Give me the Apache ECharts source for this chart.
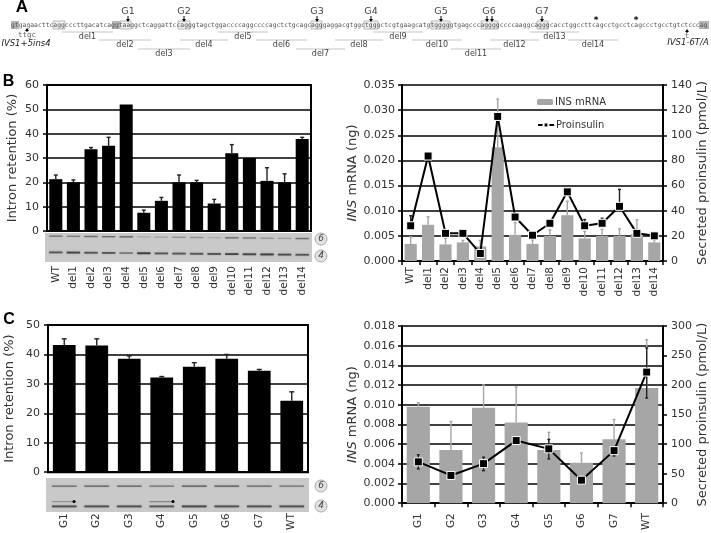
<!DOCTYPE html>
<html>
<head>
<meta charset="utf-8">
<style>
  html, body { margin: 0; padding: 0; background: #fff; }
  #chart { width: 711px; height: 533px; }
</style>
</head>
<body>
<div id="chart"></div>
<script src="https://cdn.jsdelivr.net/npm/echarts@6/dist/echarts.min.js"></script>
<script>
// panel B
const delNames = ['WT', 'del1', 'del2', 'del3', 'del4', 'del5', 'del6', 'del7', 'del8', 'del9', 'del10', 'del11', 'del12', 'del13', 'del14']
const delRetention = [21.3, 20, 33.6, 35, 52, 7.5, 12.4, 20, 20, 11.3, 32, 30, 20.6, 20, 37.8]
const delRetentionTop = [23, 21, 34.3, 38.5, 52, 8.6, 13.8, 23, 20.8, 13, 35.5, 30, 26, 23.5, 38.5]
const delMrna = [0.0034, 0.0072, 0.0033, 0.0037, 0.0029, 0.0226, 0.0052, 0.0034, 0.005, 0.0091, 0.0045, 0.005, 0.005, 0.0054, 0.0037]
const delMrnaTop = [0.0048, 0.0088, 0.0045, 0.0041, 0.0041, 0.0322, 0.0076, 0.0042, 0.0062, 0.0119, 0.0059, 0.0063, 0.0064, 0.0082, 0.0041]
const delProins = [28, 83.5, 22, 22, 6, 115, 35, 20.5, 30, 55, 28, 30, 43.5, 22, 20]
const delProinsTop = [36, 83.5, 22, 22, 6, 115, 35, 20.5, 30, 55, 33, 34, 57, 22, 20]
const delBandUpper = [0.45, 0.4, 0.5, 0.5, 0.55, 0.15, 0.2, 0.3, 0.3, 0.15, 0.5, 0.45, 0.3, 0.25, 0.5]
const delBandLower = [0.6, 0.7, 0.6, 0.6, 0.4, 0.75, 0.6, 0.6, 0.6, 0.65, 0.7, 0.7, 0.75, 0.65, 0.6]

// panel C
const gNames = ['G1', 'G2', 'G3', 'G4', 'G5', 'G6', 'G7', 'WT']
const gRetention = [43.2, 43, 38.5, 32.2, 35.8, 38.5, 34.5, 24.3]
const gRetentionTop = [45.3, 45.3, 39.5, 32.5, 37.2, 40, 34.9, 27.3]
const gMrna = [0.0098, 0.0054, 0.0097, 0.0082, 0.0054, 0.0041, 0.0065, 0.0117]
const gMrnaTop = [0.0102, 0.0083, 0.012, 0.0118, 0.0072, 0.0051, 0.0085, 0.0166]
const gProins = [70, 47, 67, 106, 92, 39, 89, 222]
const gProinsTop = [82, 47, 78, 106, 108, 39, 89, 263]
const gProinsLow = [58, 47, 55, 106, 75, 39, 80, 178]
const gBandUpper = [0.5, 0.55, 0.55, 0.45, 0.6, 0.6, 0.5, 0.45]
const gBandLower = [0.65, 0.65, 0.65, 0.6, 0.7, 0.65, 0.65, 0.65]
const gBandExtra = [0.3, 0, 0, 0.35, 0, 0, 0, 0]

// panel A
const sequence = 'gtgagaacttcaggcccttgacatcaggtaaggctcaggattccagggtagctggaccccaggccccagctctgcagcagggaggacgtggctgggctcgtgaagcatgtgggggtgagcccaggggccccaaggcagggcacctggccttcagcctgcctcagccctgcctgtctcccag'
const delLabels = ['del1', 'del2', 'del3', 'del4', 'del5', 'del6', 'del7', 'del8', 'del9', 'del10', 'del11', 'del12', 'del13', 'del14']
const delStart = [62, 99, 138, 180, 218, 256, 296, 335, 373, 412, 451, 490, 530, 568]
const delEnd = [113, 151, 190, 228, 268, 307, 345, 383, 423, 462, 501, 539, 579, 618]
const delRow = [0, 1, 2, 1, 0, 1, 2, 1, 0, 1, 2, 1, 0, 1]
const guideLabels = ['G1', 'G2', 'G3', 'G4', 'G5', 'G6', 'G7']
const guideX = [128, 184, 317, 371, 441, 489, 542]

const TEXT = '#333'
const MONO = '"DejaVu Sans Mono", monospace'
const SANS = '"DejaVu Sans", sans-serif'

const chart = echarts.init(document.getElementById('chart'), null, { renderer: 'canvas' })

function errorSeries(name, xIdx, yIdx, tops, lows, values, color, capHalf) {
  return {
    name,
    type: 'custom',
    xAxisIndex: xIdx,
    yAxisIndex: yIdx,
    z: 3,
    silent: true,
    clip: false,
    data: values.map((v, i) => [i, v, tops[i], lows ? lows[i] : v]),
    encode: { x: 0, y: 1 },
    renderItem(params, api) {
      const hi = api.coord([api.value(0), api.value(2)])
      const lo = api.coord([api.value(0), api.value(3)])
      if (Math.abs(hi[1] - lo[1]) < 0.5) return null
      const style = { stroke: color, lineWidth: 1.4 }
      const seg = (x1, y1, x2, y2) => ({ type: 'line', shape: { x1, y1, x2, y2 }, style })
      const kids = [
        seg(hi[0], hi[1], lo[0], lo[1]),
        seg(hi[0] - capHalf, hi[1], hi[0] + capHalf, hi[1])
      ]
      if (lows) kids.push(seg(lo[0] - capHalf, lo[1], lo[0] + capHalf, lo[1]))
      return { type: 'group', children: kids }
    }
  }
}

function catAxis(gridIndex, data, margin, ticks) {
  return {
    type: 'category',
    gridIndex,
    data,
    axisLine: { lineStyle: { color: '#000', width: 2 } },
    axisTick: { show: ticks, length: 4, lineStyle: { color: '#000', width: 1.5 } },
    axisLabel: { rotate: 90, margin, interval: 0, fontFamily: SANS, fontSize: 10.5, color: TEXT },
    splitLine: { show: false }
  }
}

function valAxis(gridIndex, max, interval, name, nameGap, extra) {
  return Object.assign({
    type: 'value',
    gridIndex,
    min: 0,
    max,
    interval,
    name,
    nameLocation: 'middle',
    nameGap,
    nameTextStyle: {
      fontFamily: SANS, fontSize: 13, color: TEXT,
      rich: { i: { fontFamily: SANS, fontSize: 13, fontStyle: 'italic', color: TEXT } }
    },
    axisLine: { show: true, lineStyle: { color: '#000', width: 2 } },
    axisTick: { show: true, length: 4, lineStyle: { color: '#000', width: 1.5 } },
    axisLabel: { fontFamily: SANS, fontSize: 11, color: TEXT, margin: 8 },
    splitLine: { show: true, lineStyle: { color: '#000', width: 1.6 } }
  }, extra)
}

function gelGraphics(box, left, band, names, upper, lower, extra) {
  const out = [{ type: 'rect', shape: { x: box.x, y: box.y, width: box.w, height: box.h }, style: { fill: '#c9c9c9' }, silent: true }]
  const bandW = band * 0.76
  const addBand = (i, y, h, a) => out.push({
    type: 'rect',
    shape: { x: left + (i + 0.5) * band - bandW / 2, y: y, width: bandW, height: h },
    style: { fill: 'rgba(40,40,40,' + a + ')', shadowBlur: 1.5, shadowColor: 'rgba(40,40,40,' + a + ')' },
    silent: true
  })
  names.forEach((n, i) => {
    addBand(i, box.upY + i * box.drift, 1.3, upper[i])
    addBand(i, box.lowY + i * box.drift, 1.8, lower[i])
    if (extra && extra[i]) addBand(i, box.lowY - 4.5, 1.2, extra[i])
  })
  ;[[6, box.circ6], [4, box.circ4]].forEach(([label, y]) => {
    out.push({ type: 'circle', shape: { cx: box.circX, cy: y, r: 6 }, style: { fill: '#e2e2e2', stroke: '#aaa', lineWidth: 1 }, silent: true })
    out.push({ type: 'text', x: box.circX, y, silent: true, style: { text: String(label), fontFamily: SANS, fontSize: 9, fontStyle: 'italic', fill: '#444', align: 'center', verticalAlign: 'middle' } })
  })
  return out
}

function arrow(x, y1, y2, color) {
  const dir = y2 > y1 ? 1 : -1
  return [
    { type: 'line', shape: { x1: x, y1, x2: x, y2: y2 - dir * 2 }, style: { stroke: color, lineWidth: 1 }, silent: true },
    { type: 'polygon', shape: { points: [[x - 2, y2 - dir * 3], [x + 2, y2 - dir * 3], [x, y2]] }, style: { fill: color }, silent: true }
  ]
}

function label(text, x, y, size, opts) {
  return {
    type: 'text', x, y, silent: true,
    style: Object.assign({ text, fontFamily: SANS, fontSize: size, fill: '#444', align: 'center', verticalAlign: 'middle' }, opts)
  }
}

function panelA() {
  const out = []
  const seqLeft = 11, seqRight = 709, seqY = 25
  ;[[11, 19], [112, 120], [699, 709]].forEach(([a, b]) => out.push({
    type: 'rect', shape: { x: a, y: seqY - 4, width: b - a, height: 8 }, style: { fill: '#b5b5b5' }, silent: true
  }))
  ;[[53, 65], [120, 131], [178, 190], [311, 322], [364, 378], [431, 450], [481, 498], [537, 548]].forEach(([a, b]) => out.push({
    type: 'rect', shape: { x: a, y: seqY - 4, width: b - a, height: 8 }, style: { fill: '#eee', stroke: '#bbb', lineWidth: 1 }, silent: true
  }))
  const pitch = (seqRight - seqLeft) / sequence.length
  out.push(label(sequence, seqLeft, seqY, pitch / 0.602, { fontFamily: MONO, align: 'left', fill: '#555' }))

  delLabels.forEach((d, i) => {
    const y = [32, 40, 49][delRow[i]]
    out.push({ type: 'line', shape: { x1: delStart[i], y1: y, x2: delEnd[i], y2: y }, style: { stroke: '#c4c4c4', lineWidth: 1 }, silent: true })
    out.push(label(d, (delStart[i] + delEnd[i]) / 2, y + 5, 8))
  })
  guideLabels.forEach((g, i) => {
    out.push(label(g, guideX[i], 12, 9.5))
    if (g === 'G6') {
      out.push(...arrow(guideX[i] - 2, 16, 22, '#000'), ...arrow(guideX[i] + 3, 16, 22, '#000'))
    } else {
      out.push(...arrow(guideX[i], 16, 22, '#000'))
    }
  })
  ;[596, 636].forEach(x => out.push(label('*', x, 21, 9, { fill: '#000', fontWeight: 'bold' })))

  out.push(...arrow(27, 32, 28, '#000'))
  out.push(label('ttgc', 27, 35, 7.5, { fontFamily: MONO, fill: '#666' }))
  out.push(...arrow(687, 33, 29, '#000'))
  out.push(label('t', 687, 36, 7.5, { fontFamily: MONO, fill: '#666' }))
  out.push(label('IVS1+5ins4', 26, 44, 8.5, { fontStyle: 'italic', fill: '#222' }))
  out.push(label('IVS1-6T/A', 688, 43, 8.5, { fontStyle: 'italic', fill: '#222' }))

  const letter = { fontFamily: '"Liberation Sans", sans-serif', fontWeight: 'bold', fill: '#000' }
  out.push(label('A', 22, 7, 17, letter), label('B', 8.5, 82, 16, letter), label('C', 9, 320, 16, letter))
  return out
}

const gridB1 = { left: 47, top: 85, width: 264, height: 146 }
const gridB2 = { left: 402, top: 85, width: 261, height: 176 }
const gridC1 = { left: 48, top: 325, width: 260, height: 152 }
const gridC2 = { left: 402, top: 326, width: 261, height: 181 }

const gelB = { x: 45, y: 233, w: 267, h: 29, upY: 235.5, lowY: 251.5, drift: 0.17, circX: 321, circ6: 239, circ4: 256 }
const gelC = { x: 46, y: 478, w: 263, h: 34, upY: 485.5, lowY: 505.5, drift: 0, circX: 321, circ6: 486, circ4: 506 }

const option = {
  animation: false,
  backgroundColor: '#fff',
  grid: [gridB1, gridB2, gridC1, gridC2].map((g, i) => Object.assign({
    show: i % 2 === 0, borderColor: '#000', borderWidth: 2, backgroundColor: 'transparent'
  }, g)),
  legend: [
    { data: ['INS mRNA'], left: 537, top: 97, itemWidth: 16, itemHeight: 6, itemGap: 0, padding: 0, textStyle: { fontFamily: SANS, fontSize: 10, color: TEXT, padding: [0, 0, 0, -3] } },
    { data: ['Proinsulin'], left: 537, top: 120, itemWidth: 16, itemHeight: 6, itemGap: 0, padding: 0, textStyle: { fontFamily: SANS, fontSize: 10, color: TEXT, padding: [0, 0, 0, -3] } }
  ],
  xAxis: [
    catAxis(0, delNames, 35, false),
    catAxis(1, delNames, 6, true),
    catAxis(2, gNames, 41, false),
    catAxis(3, gNames, 10, true)
  ],
  yAxis: [
    valAxis(0, 60, 10, 'Intron retention (%)', 28),
    valAxis(1, 0.035, 0.005, '{i|INS} mRNA (ng)', 38, { axisLabel: { fontFamily: SANS, fontSize: 11, color: TEXT, margin: 7, formatter: v => v.toFixed(3) } }),
    valAxis(1, 140, 20, 'Secreted proinsulin (pmol/L)', 28, { position: 'right', splitLine: { show: false } }),
    valAxis(2, 50, 10, 'Intron retention (%)', 32),
    valAxis(3, 0.018, 0.002, '{i|INS} mRNA (ng)', 38, { axisLabel: { fontFamily: SANS, fontSize: 11, color: TEXT, margin: 7, formatter: v => v.toFixed(3) } }),
    valAxis(3, 300, 50, 'Secreted proinsulin (pmol/L)', 28, { position: 'right', splitLine: { show: false } })
  ],
  series: [
    { type: 'bar', name: 'B retention', xAxisIndex: 0, yAxisIndex: 0, data: delRetention, barWidth: '74%', itemStyle: { color: '#000' }, z: 2 },
    errorSeries('B retention err', 0, 0, delRetentionTop, null, delRetention, '#222', 2),

    { type: 'bar', name: 'INS mRNA', xAxisIndex: 1, yAxisIndex: 1, data: delMrna, barWidth: '70%', itemStyle: { color: '#a6a6a6' }, z: 2 },
    errorSeries('B mrna err', 1, 1, delMrnaTop, null, delMrna, '#a6a6a6', 1.5),
    errorSeries('B proins err', 1, 2, delProinsTop, null, delProins, '#222', 1.5),
    {
      type: 'line', name: 'Proinsulin', xAxisIndex: 1, yAxisIndex: 2, data: delProins, z: 4,
      symbol: 'rect', symbolSize: 8, lineStyle: { color: '#000', width: 2 },
      itemStyle: { color: '#000', borderColor: '#fff', borderWidth: 1 }
    },

    { type: 'bar', name: 'C retention', xAxisIndex: 2, yAxisIndex: 3, data: gRetention, barWidth: '70%', itemStyle: { color: '#000' }, z: 2 },
    errorSeries('C retention err', 2, 3, gRetentionTop, null, gRetention, '#222', 2.5),

    { type: 'bar', name: 'C mRNA', xAxisIndex: 3, yAxisIndex: 4, data: gMrna, barWidth: '71%', itemStyle: { color: '#a6a6a6' }, z: 2 },
    errorSeries('C mrna err', 3, 4, gMrnaTop, null, gMrna, '#a6a6a6', 1.5),
    errorSeries('C proins err', 3, 5, gProinsTop, gProinsLow, gProins, '#222', 1.5),
    {
      type: 'line', name: 'C proinsulin', xAxisIndex: 3, yAxisIndex: 5, data: gProins, z: 4,
      symbol: 'rect', symbolSize: 8, lineStyle: { color: '#000', width: 2 },
      itemStyle: { color: '#000', borderColor: '#fff', borderWidth: 1 }
    }
  ],
  graphic: [
    ...panelA(),
    ...gelGraphics(gelB, gridB1.left, gridB1.width / delNames.length, delNames, delBandUpper, delBandLower),
    ...gelGraphics(gelC, gridC1.left, gridC1.width / gNames.length, gNames, gBandUpper, gBandLower, gBandExtra),
    { type: 'circle', shape: { cx: 74, cy: 501.5, r: 1.5 }, style: { fill: '#000' }, silent: true },
    { type: 'circle', shape: { cx: 173, cy: 501.5, r: 1.5 }, style: { fill: '#000' }, silent: true }
  ]
}

chart.setOption(option)
</script>
</body>
</html>
